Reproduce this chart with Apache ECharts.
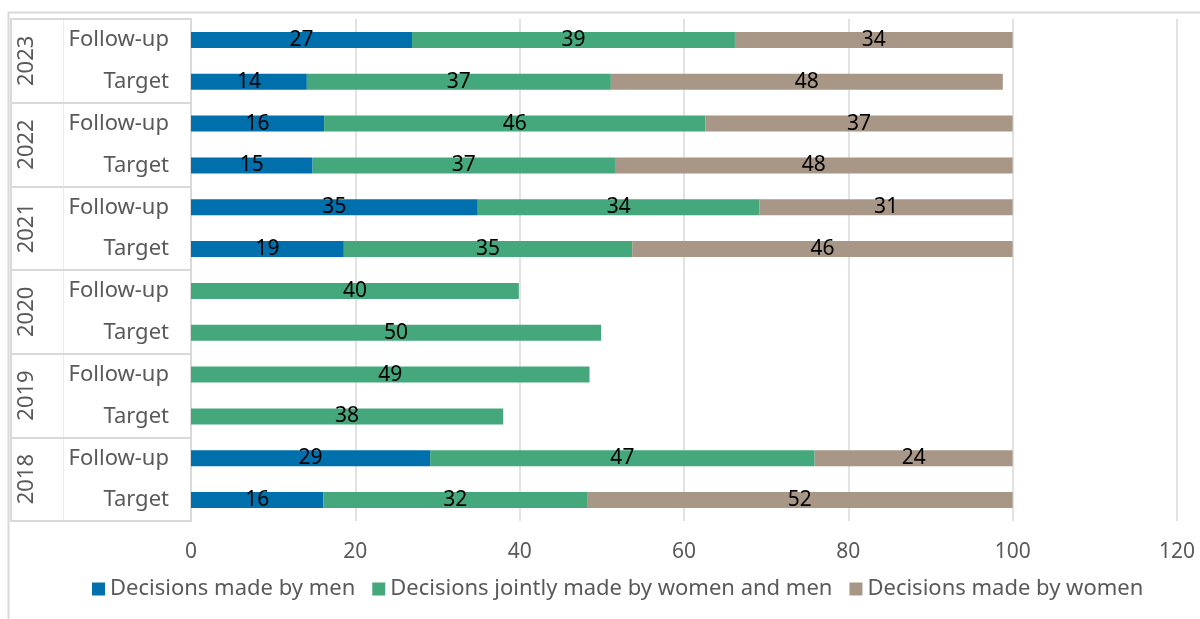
<!DOCTYPE html>
<html>
<head>
<meta charset="utf-8">
<script src="https://cdn.jsdelivr.net/npm/echarts@6/dist/echarts.min.js"></script>
<style>
  html, body { margin: 0; padding: 0; background: #fff; }
  #chart { width: 1200px; height: 619px; }
</style>
</head>
<body>
<div id="chart"></div>
<script>
// 分类（自上而下）
const rowLabels = ['Follow-up', 'Target', 'Follow-up', 'Target', 'Follow-up', 'Target',
  'Follow-up', 'Target', 'Follow-up', 'Target', 'Follow-up', 'Target'];
const years = ['2023', '2022', '2021', '2020', '2019', '2018'];

// 系列数据（百分比）
const menValues = [26.9, 14.1, 16.2, 14.8, 34.9, 18.6, null, null, null, null, 29.1, 16.1];
const jointValues = [39.3, 37.0, 46.4, 36.8, 34.3, 35.1, 39.9, 49.9, 48.5, 38.0, 46.8, 32.1];
const womenValues = [33.8, 47.7, 37.4, 48.4, 30.8, 46.3, null, null, null, null, 24.1, 51.8];

const xTicks = [0, 20, 40, 60, 80, 100, 120];

const seriesNames = ['Decisions made by men', 'Decisions jointly made by women and men', 'Decisions made by women'];
const colors = ['#0070ad', '#44a87c', '#a89787'];

const FONT = 'Noto Sans';
const FS = 22;
const gridLine = '#d9d9d9';

const chart = echarts.init(document.getElementById('chart'));

function barSeries(name, data, color) {
  return {
    name: name,
    type: 'bar',
    stack: 'total',
    yAxisIndex: 0,
    barWidth: 16,
    data: data,
    itemStyle: { color: color },
    label: {
      show: true,
      position: 'inside',
      color: '#000',
      fontFamily: FONT,
      fontSize: 21,
      formatter: (p) => (p.value == null ? '' : Math.round(p.value))
    }
  };
}

const option = {
  animation: false,
  textStyle: { fontFamily: FONT },
  grid: { left: 191, right: 23, top: 19, bottom: 98 },
  graphic: [{
    type: 'polyline',
    shape: { points: [[8.5, 619], [8.5, 12.5], [1200, 12.5]] },
    style: { stroke: gridLine, lineWidth: 2, fill: null },
    silent: true
  }],
  legend: {
    left: 87,
    bottom: 14,
    itemWidth: 13,
    itemHeight: 13,
    itemGap: 17,
    icon: 'rect',
    textStyle: { color: '#595959', fontSize: FS, fontFamily: FONT },
    data: seriesNames
  },
  xAxis: {
    type: 'value',
    min: xTicks[0],
    max: xTicks[xTicks.length - 1],
    interval: 20,
    axisLine: { show: false },
    axisTick: { show: false },
    axisLabel: { color: '#595959', fontSize: 21, margin: 21 },
    splitLine: { lineStyle: { color: gridLine, width: 1.5 } }
  },
  yAxis: [
    {
      // 子分类：Follow-up / Target
      type: 'category',
      inverse: true,
      data: rowLabels,
      axisLine: { show: true, lineStyle: { color: gridLine, width: 2 } },
      axisTick: { show: false },
      axisLabel: { color: '#595959', fontSize: FS, margin: 22 }
    },
    {
      // 年份分组及横向分隔线
      type: 'category',
      inverse: true,
      data: years,
      position: 'left',
      offset: 0,
      axisLine: { show: false },
      axisTick: { show: true, length: 181, lineStyle: { color: gridLine, width: 2 } },
      axisLabel: { color: '#595959', fontSize: FS, rotate: 90, margin: 153 }
    },
    {
      // 年份列与子分类列之间的竖线
      type: 'category',
      inverse: true,
      data: years,
      position: 'left',
      offset: 128,
      axisLine: { show: true, lineStyle: { color: '#ececec', width: 1 } },
      axisTick: { show: false },
      axisLabel: { show: false }
    },
    {
      // 左侧边框
      type: 'category',
      inverse: true,
      data: years,
      position: 'left',
      offset: 180,
      axisLine: { show: true, lineStyle: { color: gridLine, width: 2 } },
      axisTick: { show: false },
      axisLabel: { show: false }
    }
  ],
  series: [
    barSeries(seriesNames[0], menValues, colors[0]),
    barSeries(seriesNames[1], jointValues, colors[1]),
    barSeries(seriesNames[2], womenValues, colors[2])
  ]
};

chart.setOption(option);
</script>
</body>
</html>
